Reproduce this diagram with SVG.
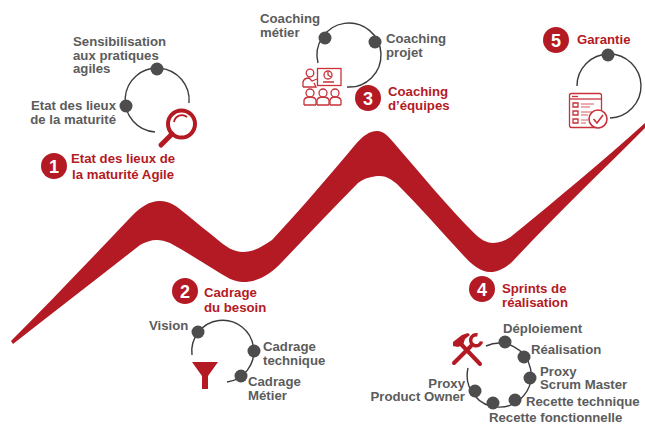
<svg xmlns="http://www.w3.org/2000/svg" width="645" height="424" viewBox="0 0 645 424">
<style>
text{font-family:"Liberation Sans",Arial,sans-serif;font-weight:700;font-size:13.200px}
.g{fill:#5c5c5c}
.r{fill:#b41a24}
.arc{fill:none;stroke:#3c3c3c;stroke-width:1.400}
.n{fill:#4d4d4d}
.b{fill:#b41a24}
.bt{fill:#fff;font-size:18px;text-anchor:middle}
.i{fill:none;stroke:#c8323a;stroke-width:1.300}
.if{fill:#c8323a}
</style>
<rect width="645" height="424" fill="#fff"/>
<path id="ribbon" class="b" d="M11 341 C50 302 92 258 128 220 C140 207 149 201 160 201 C170 201 176 206 186 214 C197 223 208 232 218 240 C226 247 234 252 243 252 C253 252 262 247 272 240 C300 210 330 175 355 145 C363 136 369 131 377 131 C384 131 388 136 394 143 C420 173 448 207 473 232 C480 239 486 243 493 243 C500 243 507 240 513 235 C558 198 602 162 645 123 L645 128 C602 171 557 214 512 262 C505 268 498 272 490 272 C481 272 472 265 463 255 C441 231 419 206 397 184 C391 179 386 176 380 176 C372 176 365 178 358 183 C332 209 307 236 282 262 C271 274 258 282 243 282 C234 282 226 277 215 270 C200 261 185 251 170 243 C165 241 161 240 157 240 C151 240 145 242 140 245 C98 278 55 311 13 344 Z"/>
<g id="connectors">
<path class="arc" d="M189 103 A32 32 0 1 0 155 132"/>
<path class="arc" d="M318 63 A32 32 0 1 1 347 87"/>
<path class="arc" d="M577 86 A32 32 0 1 1 610 118"/>
<path class="arc" d="M192 355 A31 31 0 1 1 227 382"/>
<path class="arc" d="M486 346 A32 32 0 1 1 468 368"/>
</g>
<g id="step1">
<circle class="n" cx="157" cy="69" r="6.500"/><circle class="n" cx="126" cy="106" r="6.500"/>
<text class="g" x="73" y="46">Sensibilisation</text><text class="g" x="73" y="59.500">aux pratiques</text><text class="g" x="73" y="73">agiles</text>
<text class="g" x="116" y="110" text-anchor="end">Etat des lieux</text><text class="g" x="116" y="123.500" text-anchor="end">de la maturité</text>
<g id="icon-loupe"><circle cx="181.500" cy="124" r="13.500" fill="#fff" stroke="#b41a24" stroke-width="4"/><path d="M172 134 L161 145" stroke="#b41a24" stroke-width="5" stroke-linecap="round" fill="none"/><path d="M174 122 A8 8 0 0 1 187 117" stroke="#b41a24" stroke-width="1.800" fill="none"/></g>
<circle class="b" cx="54" cy="166" r="13"/><text class="bt" x="54" y="172.500">1</text>
<text class="r" x="71" y="163">Etat des lieux de</text><text class="r" x="72" y="179">la maturité Agile</text>
</g>
<g id="step2">
<circle class="n" cx="198" cy="332" r="6.500"/><circle class="n" cx="254" cy="351" r="6.500"/><circle class="n" cx="241" cy="376" r="6.500"/>
<text class="g" x="149" y="330">Vision</text>
<text class="g" x="263" y="351">Cadrage</text><text class="g" x="263" y="365">technique</text>
<text class="g" x="248" y="386">Cadrage</text><text class="g" x="248" y="400">Métier</text>
<path id="funnel" class="b" d="M192 362 H218 L208 376 V389 H202 V376 Z"/>
<circle class="b" cx="185" cy="291" r="13"/><text class="bt" x="185" y="297.500">2</text>
<text class="r" x="204" y="297">Cadrage</text><text class="r" x="204" y="312">du besoin</text>
</g>
<g id="step3">
<circle class="n" cx="325" cy="38" r="6.500"/><circle class="n" cx="375" cy="42" r="6.500"/>
<text class="g" x="260" y="23">Coaching</text><text class="g" x="260" y="37">métier</text>
<text class="g" x="386" y="43">Coaching</text><text class="g" x="386" y="57">projet</text>
<g id="icon-coaching">
<rect x="302" y="65" width="42" height="42" fill="#fff"/>
<rect class="i" x="317.500" y="68.500" width="23.500" height="17"/>
<circle class="i" cx="328" cy="75" r="4"/><path class="i" d="M328 72 V75 L331 77 M323 82 H334"/>
<circle class="i" cx="310" cy="73" r="3.800"/><path class="i" d="M303 87 V82 Q304 78 309 78 L312 81 L317 79 M303 87 H316 L314 83"/>
<circle class="i" cx="310" cy="93" r="4"/><path class="i" d="M304 105 V100 Q305 97 310 97 Q315 97 316 100 V105 M304 105 H316"/>
<circle class="i" cx="323" cy="93" r="4"/><path class="i" d="M317 105 V100 Q318 97 323 97 Q328 97 329 100 V105 M317 105 H329"/>
<circle class="i" cx="335" cy="93" r="4"/><path class="i" d="M330 105 V100 Q331 97 335 97 Q340 97 341 100 V105 M330 105 H341"/>
</g>
<circle class="b" cx="368" cy="98" r="13"/><text class="bt" x="368" y="104.500">3</text>
<text class="r" x="388" y="96">Coaching</text><text class="r" x="388" y="110">d’équipes</text>
</g>
<g id="step4">
<circle class="n" cx="505" cy="342" r="6.500"/><circle class="n" cx="524" cy="357" r="6.500"/><circle class="n" cx="530" cy="378" r="6.500"/><circle class="n" cx="515" cy="400" r="6.500"/><circle class="n" cx="493" cy="403" r="6.500"/><circle class="n" cx="475" cy="391" r="6.500"/>
<text class="g" x="503" y="333">Déploiement</text>
<text class="g" x="531" y="354">Réalisation</text>
<text class="g" x="540" y="375.500">Proxy</text><text class="g" x="540" y="388.500">Scrum Master</text>
<text class="g" x="526" y="406">Recette technique</text>
<text class="g" x="489" y="422">Recette fonctionnelle</text>
<text class="g" x="465" y="388" text-anchor="end">Proxy</text><text class="g" x="465" y="401" text-anchor="end">Product Owner</text>
<g id="icon-tools"><path d="M460 343 L480 364" stroke="#b41a24" stroke-width="4" fill="none" stroke-linecap="round"/><path d="M453 346 L453 342 L462 335 L468 333 L470 335 L465 339 L463 345 L458 347 Z" class="b"/><path d="M454 363 L471 346" stroke="#b41a24" stroke-width="4" fill="none" stroke-linecap="round"/><path d="M477.500 335 A5.500 5.500 0 1 0 481.500 341.500" stroke="#b41a24" stroke-width="3.500" fill="none"/></g>
<circle class="b" cx="482" cy="289" r="13"/><text class="bt" x="482" y="295.500">4</text>
<text class="r" x="502" y="293">Sprints de</text><text class="r" x="502" y="307">réalisation</text>
</g>
<g id="step5">
<circle class="n" cx="608" cy="55" r="6.500"/>
<circle class="b" cx="556" cy="40" r="13"/><text class="bt" x="556" y="46.500">5</text>
<text class="r" x="577" y="44">Garantie</text>
<g id="icon-check">
<rect class="i" style="fill:#fff" x="569.500" y="93.500" width="32" height="34" rx="2"/>
<path class="i" d="M570 99 H601"/><path class="i" d="M572 96.500 H578" />
<path class="i" d="M573 103 h5 v4 h-5 z M573 111 h5 v4 h-5 z M573 119 h5 v4 h-5 z"/>
<path d="M581 104 H594 M581 107 H590 M581 112 H592 M581 115 H588 M581 120 H588 M581 123 H586" stroke="#c8323a" stroke-width="0.800" fill="none"/>
<circle class="i" style="stroke-width:1.600;fill:#fff" cx="598" cy="119" r="9"/><path class="i" style="stroke-width:1.600" d="M593.500 119 L597 123 L603 115"/>
</g>
</g>
</svg>
